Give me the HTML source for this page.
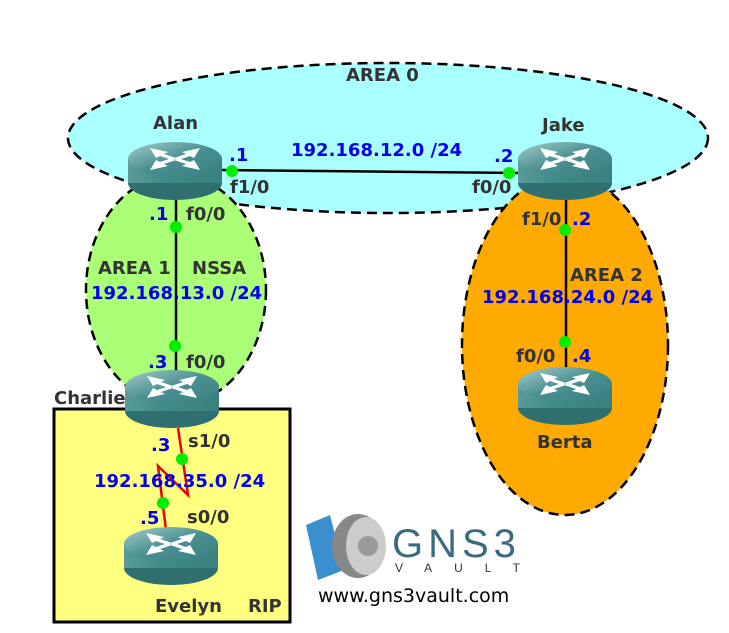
<!DOCTYPE html>
<html><head><meta charset="utf-8"><style>
html,body{margin:0;padding:0;background:#fff;}
svg{display:block;font-family:"DejaVu Sans","Liberation Sans",sans-serif;font-weight:bold;}
.b{fill:#0000ee;font-size:18px;}
.k{fill:#333;font-size:18px;}
</style></head><body>
<svg width="729" height="633" viewBox="0 0 729 633" xmlns="http://www.w3.org/2000/svg">
<defs>
<linearGradient id="rg" x1="0" x2="1" y1="0" y2="0">
<stop offset="0" stop-color="#5a9a9a"/><stop offset="0.4" stop-color="#3f8a8a"/><stop offset="1" stop-color="#3a8080"/></linearGradient>
<linearGradient id="tg" x1="0" x2="1" y1="0" y2="1">
<stop offset="0" stop-color="#a8cccc"/><stop offset="0.5" stop-color="#4a9090"/><stop offset="1" stop-color="#3a8080"/></linearGradient>
<g id="r">
<ellipse cx="47" cy="41" rx="47" ry="17" fill="#2f6f6f"/>
<rect x="0" y="17" width="94" height="24" fill="url(#rg)"/>
<ellipse cx="47" cy="17" rx="47" ry="17" fill="url(#tg)"/>
<g fill="#fff">
<path d="M22 6 L40 10 L36 12 L48 16 L44 18 L32 14 L28 16 Z"/>
<path d="M72 6 L54 10 L58 12 L46 16 L50 18 L62 14 L66 16 Z"/>
<path d="M22 28 L40 24 L36 22 L48 18 L44 16 L32 20 L28 18 Z"/>
<path d="M72 28 L54 24 L58 22 L46 18 L50 16 L62 20 L66 18 Z"/>
</g>
</g>
</defs>
<ellipse cx="388" cy="138" rx="320" ry="75" fill="#aaffff" stroke="#000" stroke-width="2.5" stroke-dasharray="10,6"/>
<ellipse cx="176" cy="290" rx="90" ry="115" fill="#aaff77" stroke="#000" stroke-width="2.5" stroke-dasharray="10,6"/>
<ellipse cx="565" cy="345" rx="103" ry="170" fill="#ffaa00" stroke="#000" stroke-width="2.5" stroke-dasharray="10,6"/>
<rect x="54" y="409" width="236" height="213" fill="#ffff80" stroke="#000" stroke-width="3"/>
<line x1="222" y1="170" x2="519" y2="173" stroke="#000" stroke-width="2.5"/>
<line x1="176" y1="195" x2="176" y2="372" stroke="#000" stroke-width="2.5"/>
<line x1="566" y1="200" x2="566" y2="370" stroke="#000" stroke-width="2.5"/>
<polyline points="178,428 188,495 158,466 166,530" fill="none" stroke="#e00" stroke-width="2.5"/>
<use href="#r" x="128" y="142"/>
<use href="#r" x="518" y="142"/>
<use href="#r" x="125" y="370"/>
<use href="#r" x="518" y="367"/>
<use href="#r" x="124" y="527"/>
<g fill="#00ee00">
<circle cx="232" cy="171" r="6"/><circle cx="509" cy="173" r="6"/>
<circle cx="176" cy="227" r="6"/><circle cx="175" cy="346" r="6"/>
<circle cx="565" cy="230" r="6"/><circle cx="565" cy="342" r="6"/>
<circle cx="182" cy="459" r="6"/><circle cx="163" cy="503" r="6"/>
</g>
<text class="k" x="346" y="81">AREA 0</text>
<text class="k" x="153" y="129">Alan</text>
<text class="k" x="542" y="131">Jake</text>
<text class="b" x="229" y="161">.1</text>
<text class="b" x="291" y="156">192.168.12.0 /24</text>
<text class="b" x="494" y="162">.2</text>
<text class="k" x="230" y="193">f1/0</text>
<text class="k" x="472" y="193">f0/0</text>
<text class="b" x="149" y="220">.1</text>
<text class="k" x="186" y="220">f0/0</text>
<text class="k" x="522" y="225">f1/0</text>
<text class="b" x="572" y="225">.2</text>
<text class="k" x="98" y="274">AREA 1</text>
<text class="k" x="192" y="274">NSSA</text>
<text class="b" x="91" y="299">192.168.13.0 /24</text>
<text class="k" x="570" y="281">AREA 2</text>
<text class="b" x="482" y="303">192.168.24.0 /24</text>
<text class="b" x="148" y="368">.3</text>
<text class="k" x="186" y="368">f0/0</text>
<text class="k" x="516" y="362">f0/0</text>
<text class="b" x="572" y="362">.4</text>
<text class="k" x="54" y="404">Charlie</text>
<text class="k" x="537" y="448">Berta</text>
<text class="b" x="151" y="451">.3</text>
<text class="k" x="188" y="447">s1/0</text>
<text class="b" x="94" y="487">192.168.35.0 /24</text>
<text class="b" x="140" y="524">.5</text>
<text class="k" x="187" y="523">s0/0</text>
<text class="k" x="155" y="612">Evelyn</text>
<text class="k" x="248" y="612">RIP</text>
<g>
<path d="M306 525 L330 515 L344 570 L318 580 Z" fill="#3a8fcf"/>
<ellipse cx="358" cy="546" rx="26" ry="32" fill="#888"/>
<ellipse cx="366" cy="546" rx="20" ry="29" fill="#ccc"/>
<circle cx="368" cy="546" r="10" fill="#999"/>
</g>
<text x="392" y="557" font-size="40" font-weight="normal" fill="#3a6a80" letter-spacing="5" font-family="Liberation Sans">GNS3</text>
<text x="395" y="572" font-size="12" font-weight="normal" fill="#333" letter-spacing="22" font-family="Liberation Sans">VAULT</text>
<text x="318" y="602" font-size="19" font-weight="normal" fill="#000">www.gns3vault.com</text>
</svg>
</body></html>
